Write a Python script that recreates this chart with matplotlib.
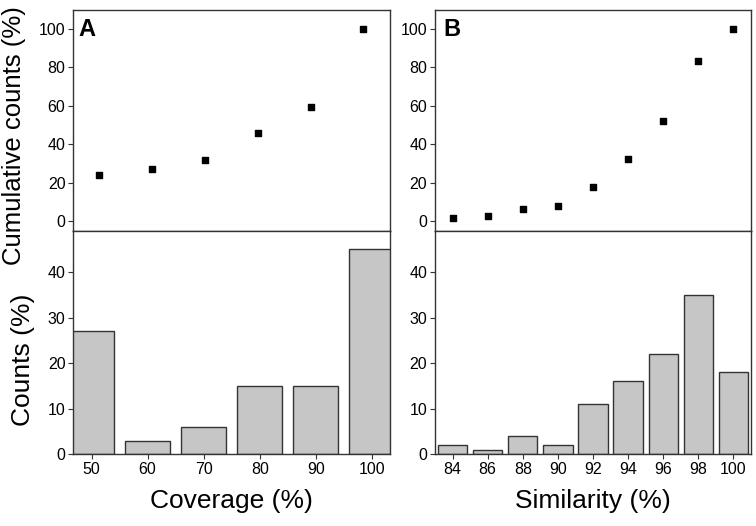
import matplotlib
matplotlib.use("Agg")
import matplotlib.pyplot as plt

plt.rcParams['font.family'] = ['Liberation Sans', 'DejaVu Sans']

# Panel A: coverage
cov_bins = [50, 60, 70, 80, 90, 100]
cov_counts = [27, 3, 6, 15, 15, 45]
cov_cumulative = [24, 27, 32, 46, 59.5, 100]

# Panel B: similarity
sim_bins = [84, 86, 88, 90, 92, 94, 96, 98, 100]
sim_counts = [2, 1, 4, 2, 11, 16, 22, 35, 18]
sim_cumulative = [2, 2.7, 6.3, 8.1, 18, 32.3, 52.2, 83.5, 100]

bar_color = '#c6c6c6'
edge_color = '#333333'

fig = plt.figure(figsize=(7.56, 5.26), dpi=100)

ax_a_top = fig.add_axes([0.0966, 0.5608, 0.419, 0.421])
ax_a_bot = fig.add_axes([0.0966, 0.1363, 0.419, 0.4245])
ax_b_top = fig.add_axes([0.5754, 0.5608, 0.418, 0.421])
ax_b_bot = fig.add_axes([0.5754, 0.1363, 0.418, 0.4245])

def style(ax):
    for s in ax.spines.values():
        s.set_color(edge_color)
        s.set_linewidth(1.0)
    ax.tick_params(axis='both', direction='out', length=3.5, width=0.8,
                   color=edge_color, labelsize=11.5, pad=2)

# top scatter panels
ax_a_top.scatter(cov_bins, cov_cumulative, marker='s', s=14, color='black', zorder=3)
ax_a_top.set_xlim(45, 105)
ax_b_top.scatter(sim_bins, sim_cumulative, marker='s', s=14, color='black', zorder=3)
ax_b_top.set_xlim(83, 101)
for ax in (ax_a_top, ax_b_top):
    ax.set_ylim(-5, 110)
    ax.set_yticks([0, 20, 40, 60, 80, 100])
    ax.set_xticks([])
    style(ax)

# bottom bar panels
ax_a_bot.bar(cov_bins, cov_counts, width=8, color=bar_color,
             edgecolor=edge_color, linewidth=1.0)
ax_a_bot.set_xlim(46.7, 103.2)
ax_a_bot.set_xticks(cov_bins)
ax_b_bot.bar(sim_bins, sim_counts, width=1.67, color=bar_color,
             edgecolor=edge_color, linewidth=1.0)
ax_b_bot.set_xlim(83, 101)
ax_b_bot.set_xticks(sim_bins)
for ax in (ax_a_bot, ax_b_bot):
    ax.set_ylim(0, 49)
    ax.set_yticks([0, 10, 20, 30, 40])
    style(ax)

ax_a_bot.set_xlabel('Coverage (%)', fontsize=19, labelpad=9)
ax_b_bot.set_xlabel('Similarity (%)', fontsize=19, labelpad=9)

fig.text(0.019, 0.742, 'Cumulative counts (%)', rotation=90, fontsize=18.5,
         ha='center', va='center')
fig.text(0.031, 0.316, 'Counts (%)', rotation=90, fontsize=19,
         ha='center', va='center')

ax_a_top.text(0.016, 0.96, 'A', transform=ax_a_top.transAxes, fontsize=17,
              fontweight='bold', va='top', ha='left')
ax_b_top.text(0.026, 0.96, 'B', transform=ax_b_top.transAxes, fontsize=17,
              fontweight='bold', va='top', ha='left')

fig.savefig('out.png', dpi=100)
